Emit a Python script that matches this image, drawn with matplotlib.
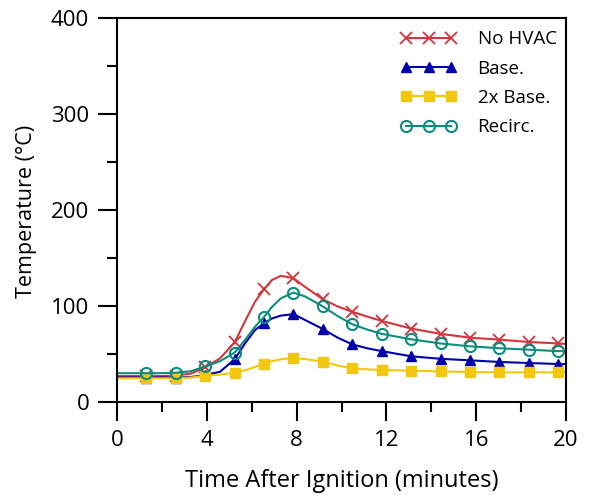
import matplotlib
matplotlib.use("Agg")
import matplotlib.pyplot as plt

plt.rcParams['font.family'] = ['Open Sans', 'DejaVu Sans']

# time grid (minutes)
time_min = [0, 0.65, 1.31, 1.97, 2.62, 3.28, 3.93, 4.59, 5.24, 5.7, 6.15, 6.55, 6.9, 7.3,
            7.86, 8.37, 9.17, 9.83, 10.48, 11.14, 11.79, 13.1, 14.41, 15.72, 17.03,
            18.34, 19.65, 20]
marker_idx = [2, 4, 6, 8, 11, 14, 16, 18, 20, 21, 22, 23, 24, 25, 26]

no_hvac = [27, 27, 27, 27, 27.5, 29.5, 36, 45.5, 62, 84, 104.5, 117.5, 127, 131.5,
           129, 120, 107, 99.5, 94, 89, 84.5, 76.5, 71, 67, 65, 62.5, 61, 60.5]
base = [25.5, 25.5, 25.5, 25.5, 25.5, 26, 28, 31.5, 44.5, 61, 75, 82, 87, 90,
        91.5, 85.5, 76, 67, 60, 56, 53, 47.6, 45, 43.4, 41.7, 40.6, 39.6, 39.5]
base_2x = [24.7, 24.7, 24.7, 24.7, 24.7, 25.5, 27.4, 28.5, 30.5, 33, 36.5, 40, 42.5, 44.5,
           46, 44.8, 42, 38, 35, 34, 33.3, 32.6, 31.9, 31.2, 30.9, 30.9, 30.9, 31]
recirc = [30, 30, 30, 30, 30.5, 32, 37, 42.5, 51.5, 64.5, 78.5, 88.5, 99, 108,
          114, 110, 99.5, 89.5, 81, 75.5, 71, 65.3, 61, 58, 56, 54.5, 53, 53]

labels = ["No HVAC", "Base.", "2x Base.", "Recirc."]
colors = ["#d3353d", "#0000aa", "#f2c70f", "#0b8c7c"]

fig = plt.figure(figsize=(5.89, 4.99), dpi=100)
ax = fig.add_axes([0.1986, 0.1944, 0.7624, 0.7695])

ax.plot(time_min, no_hvac, color=colors[0], lw=1.5, marker='x', ms=8, mew=1.3,
        markevery=marker_idx, label=labels[0])
ax.plot(time_min, base, color=colors[1], lw=1.5, marker='^', ms=7,
        markevery=marker_idx, label=labels[1])
ax.plot(time_min, base_2x, color=colors[2], lw=1.5, marker='s', ms=6.5,
        markevery=marker_idx, label=labels[2])
ax.plot(time_min, recirc, color=colors[3], lw=1.5, marker='o', ms=8, mfc='none',
        mew=1.5, markevery=marker_idx, label=labels[3])

ax.set_xlim(0, 20)
ax.set_ylim(0, 400)
ax.set_xticks([0, 4, 8, 12, 16, 20])
ax.set_xticks([2, 6, 10, 14, 18], minor=True)
ax.set_yticks([0, 100, 200, 300, 400])
ax.set_yticks([50, 150, 250, 350], minor=True)
ax.tick_params(which='major', direction='out', length=14, width=1.5, labelsize=16, pad=6)
ax.tick_params(which='minor', direction='out', length=7, width=1.5)
for s in ax.spines.values():
    s.set_linewidth(1.5)

ax.set_xlabel("Time After Ignition (minutes)", fontsize=17)
ax.xaxis.set_label_coords(0.5, -0.175)
ax.set_ylabel("Temperature (°C)", fontsize=15.5)
ax.yaxis.set_label_coords(-0.178, 0.497)

leg = ax.legend(loc='upper right', frameon=False, numpoints=3, fontsize=13.5,
                handlelength=3.0, handletextpad=1.1, labelspacing=0.6,
                borderaxespad=0.1, bbox_to_anchor=(1.0, 0.992))

fig.savefig("out.png", dpi=100)
